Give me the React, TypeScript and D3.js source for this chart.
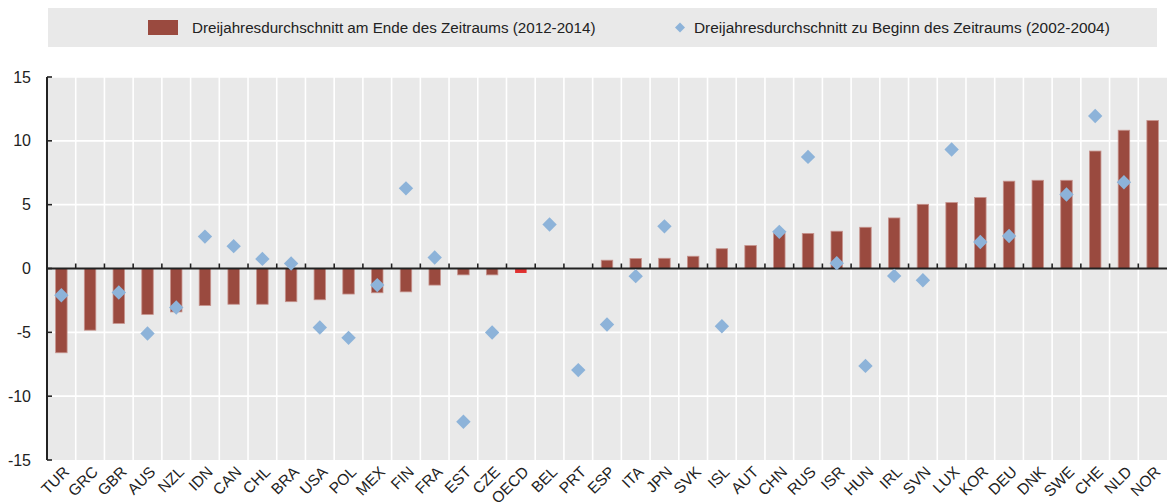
import * as d3 from "d3";

// country codes, left to right
const countries = [
  "TUR", "GRC", "GBR", "AUS", "NZL", "IDN", "CAN", "CHL", "BRA", "USA",
  "POL", "MEX", "FIN", "FRA", "EST", "CZE", "OECD", "BEL", "PRT", "ESP",
  "ITA", "JPN", "SVK", "ISL", "AUT", "CHN", "RUS", "ISR", "HUN", "IRL",
  "SVN", "LUX", "KOR", "DEU", "DNK", "SWE", "CHE", "NLD", "NOR",
];

// 3-year average at end of period (2012-2014)
const endValues = [
  -6.6, -4.83, -4.3, -3.6, -3.4, -2.9, -2.8, -2.8, -2.6, -2.45,
  -2.0, -1.9, -1.83, -1.3, -0.5, -0.5, -0.35, 0, 0, 0.65,
  0.78, 0.8, 0.96, 1.55, 1.8, 2.8, 2.75, 2.92, 3.23, 3.96,
  5.03, 5.17, 5.56, 6.84, 6.91, 6.91, 9.2, 10.83, 11.59,
];

// 3-year average at start of period (2002-2004), null = no marker
const startValues: (number | null)[] = [
  -2.1, null, -1.88, -5.09, -3.05, 2.5, 1.75, 0.75, 0.39, -4.62,
  -5.43, -1.3, 6.28, 0.86, -12.0, -5.01, null, 3.45, -7.96, -4.39,
  -0.6, 3.3, null, -4.52, null, 2.87, 8.74, 0.42, -7.63, -0.58,
  -0.92, 9.32, 2.08, 2.55, null, 5.8, 11.95, 6.76, null,
];

const yTicks = [-15, -10, -5, 0, 5, 10, 15];

const legendEnd = "Dreijahresdurchschnitt am Ende des Zeitraums (2012-2014)";
const legendStart = "Dreijahresdurchschnitt zu Beginn des Zeitraums (2002-2004)";

const W = 1167;
const H = 502;
const plot = { left: 47, right: 1167, top: 77, bottom: 460 };
const font = "'Liberation Sans', Arial, sans-serif";
const barColor = "#9a4a3f";
const oecdColor = "#e0302f";
const diamondColor = "#8db3d9";
const ink = "#222";

export default function App() {
  const x = d3.scaleBand<string>().domain(countries).range([plot.left, plot.right]).padding(0);
  const y = d3.scaleLinear().domain([-15, 15]).range([plot.bottom, plot.top]);
  const bw = x.bandwidth();
  const barW = bw * 0.4;
  const diamond = d3.symbol().type(d3.symbolDiamond2).size(132)();
  const legendDiamond = d3.symbol().type(d3.symbolDiamond2).size(64)();
  const boundaries = countries.slice(1).map((c) => x(c)!);

  return (
    <svg
      width={W}
      height={H}
      style={{ position: "absolute", left: 0, top: 0, display: "block", fontFamily: font }}
    >
      {/* legend */}
      <rect x={48} y={8} width={1109} height={39} fill="#e9e9e9" />
      <rect x={148} y={20} width={30} height={15} fill={barColor} />
      <text x={192} y={27.5} dy="0.35em" fontSize={15.2} fill={ink}>{legendEnd}</text>
      <path d={legendDiamond!} transform="translate(680,27.5)" fill={diamondColor} />
      <text x={694} y={27.5} dy="0.35em" fontSize={15.4} fill={ink}>{legendStart}</text>

      {/* plot background and grid */}
      <rect x={plot.left} y={plot.top} width={plot.right - plot.left} height={plot.bottom - plot.top} fill="#e9e9e9" />
      {yTicks.filter((t) => t !== 0 && t !== -15).map((t) => (
        <line key={t} x1={plot.left} x2={plot.right} y1={y(t)} y2={y(t)} stroke="#fff" strokeWidth={1.6} />
      ))}
      {boundaries.map((bx, i) => (
        <line key={i} x1={bx} x2={bx} y1={plot.top} y2={plot.bottom} stroke="#fff" strokeWidth={1.6} />
      ))}

      {/* bars */}
      {countries.map((c, i) => {
        const v = endValues[i];
        if (v === 0) return null;
        const cx = x(c)! + bw / 2;
        return (
          <rect
            key={c}
            x={cx - barW / 2}
            y={Math.min(y(v), y(0))}
            width={barW}
            height={Math.abs(y(v) - y(0))}
            fill={c === "OECD" ? oecdColor : barColor}
            stroke={c === "OECD" ? "none" : "#c6938d"}
            strokeWidth={0.8}
          />
        );
      })}

      {/* zero line with ticks */}
      <line x1={plot.left} x2={plot.right} y1={y(0)} y2={y(0)} stroke={ink} strokeWidth={2} />
      {boundaries.map((bx, i) => (
        <line key={i} x1={bx} x2={bx} y1={y(0) - 5} y2={y(0)} stroke={ink} strokeWidth={1.6} />
      ))}

      {/* diamonds */}
      {countries.map((c, i) => {
        const v = startValues[i];
        if (v === null) return null;
        return (
          <path
            key={c}
            d={diamond!}
            transform={`translate(${x(c)! + bw / 2},${y(v)})`}
            fill={diamondColor}
          />
        );
      })}

      {/* y axis */}
      <line x1={plot.left} x2={plot.left} y1={plot.top} y2={plot.bottom} stroke={ink} strokeWidth={2} />
      {yTicks.map((t) => (
        <g key={t}>
          <line x1={plot.left} x2={plot.left + 5} y1={y(t)} y2={y(t)} stroke={ink} strokeWidth={1.6} />
          <text x={31} y={y(t)} dy="0.35em" textAnchor="end" fontSize={16} fill={ink}>{t}</text>
        </g>
      ))}

      {/* category labels */}
      {countries.map((c) => (
        <text
          key={c}
          transform={`translate(${x(c)! + bw / 2 + 5},${plot.bottom + 9}) rotate(-45)`}
          dy="0.35em"
          textAnchor="end"
          fontSize={15.5}
          fill={ink}
        >
          {c}
        </text>
      ))}
    </svg>
  );
}
